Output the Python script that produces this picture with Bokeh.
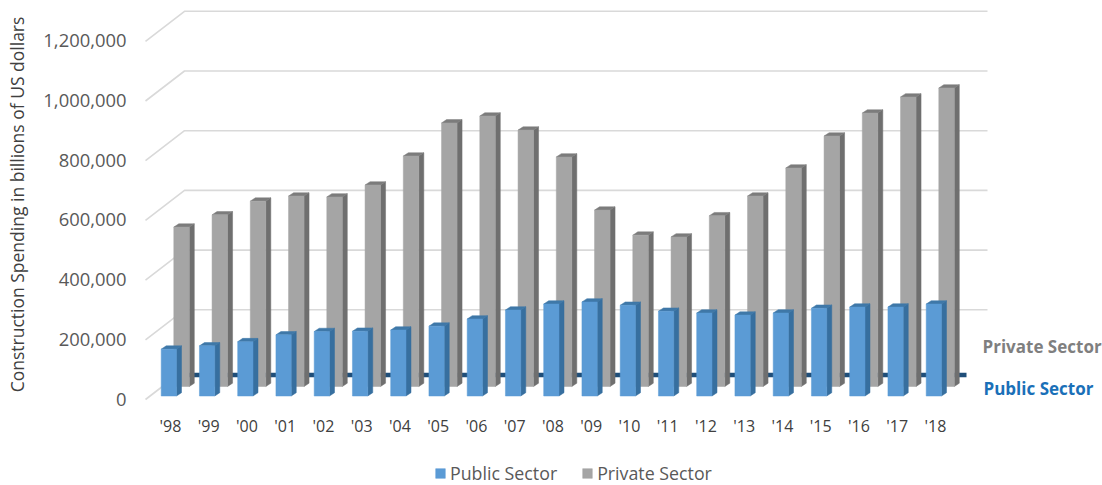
from math import pi

from bokeh.embed import file_html
from bokeh.resources import INLINE
from bokeh.plotting import figure
from bokeh.models import Range1d, FixedTicker, Legend, LegendItem, Label, NumeralTickFormatter

years = ["'98", "'99", "'00", "'01", "'02", "'03", "'04", "'05", "'06", "'07", "'08",
         "'09", "'10", "'11", "'12", "'13", "'14", "'15", "'16", "'17", "'18"]
public_sector = [157000, 168000, 182000, 205000, 216000, 217000, 221000, 234000, 258000, 288000, 308000,
                 315000, 304000, 284000, 278000, 271000, 278000, 294000, 298000, 298000, 308000]
private_sector = [534000, 575000, 621000, 638000, 635000, 675000, 772000, 883000, 906000, 859000, 769000,
                  591000, 507000, 501000, 572000, 638000, 732000, 839000, 916000, 970000, 1000000]
y_ticks = [0, 200000, 400000, 600000, 800000, 1000000, 1200000]

W, H = 1102, 485
AXIS_X, AXIS_Y = 130, 412  # where the value axis and the year axis sit
STEP = 38.25              # pixels per year
X0 = 170                  # pixel of the first year
Y0 = 398.5                # pixel of value zero
PX_PER_UNIT = 0.0002985   # pixels per unit of value


def dx(px):
    return px / STEP


def dy(px):
    return px / PX_PER_UNIT


def xp(px):
    return (px - X0) / STEP


def yp(py):
    return (Y0 - py) / PX_PER_UNIT


p = figure(width=W, height=H, output_backend="svg", toolbar_location=None,
           x_range=Range1d(xp(0), xp(W)), y_range=Range1d(yp(H), yp(0)),
           min_border=0)
p.outline_line_color = None
p.grid.visible = False
p.background_fill_color = "white"

# Y axis
p.yaxis.fixed_location = xp(AXIS_X)
p.yaxis.ticker = FixedTicker(ticks=y_ticks)
p.yaxis.formatter = NumeralTickFormatter(format="0,0")
p.yaxis.axis_line_color = None
p.yaxis.major_tick_line_color = None
p.yaxis.minor_tick_line_color = None
p.yaxis.major_tick_out = 0
p.yaxis.major_tick_in = 0
p.yaxis.major_label_text_font = "Open Sans"
p.yaxis.major_label_text_font_size = "18.4px"
p.yaxis.major_label_text_color = "#595959"
p.yaxis.major_label_standoff = 4

# X axis
p.xaxis.fixed_location = yp(AXIS_Y)
p.xaxis.ticker = FixedTicker(ticks=list(range(len(years))))
p.xaxis.major_label_overrides = {i: y for i, y in enumerate(years)}
p.xaxis.axis_line_color = None
p.xaxis.major_tick_line_color = None
p.xaxis.minor_tick_line_color = None
p.xaxis.major_tick_out = 0
p.xaxis.major_tick_in = 0
p.xaxis.major_label_text_font = "Open Sans"
p.xaxis.major_label_text_font_size = "16px"
p.xaxis.major_label_text_color = "#404040"
p.xaxis.major_label_standoff = 2

# Walls: each level runs up the side wall and along the back wall
wall_xs, wall_ys = [], []
for t in y_ticks:
    if t == 0:
        wall_xs.append([xp(145), xp(184)])
        wall_ys.append([t - dy(0.5), t + dy(29.5)])
    else:
        wall_xs.append([xp(145), xp(184), xp(987)])
        wall_ys.append([t - dy(0.5), t + dy(29.5), t + dy(29.5)])
p.multi_line(wall_xs, wall_ys, line_color="#d9d9d9", line_width=1.6)

# Dark floor strip behind the front row
p.line([xp(181), xp(966)], [yp(374.5), yp(374.5)], line_color="#1f4e79", line_width=4.5)


def bars_3d(values, offset_px, width_px, base_py, front, side, top):
    """Draw a row of extruded bars; returns the front-face renderer."""
    base = yp(base_py)
    w, ex, ey = dx(width_px), dx(5), dy(3.3)
    lefts = [i + dx(offset_px) for i in range(len(values))]
    rights = [l + w for l in lefts]
    tops = [base + v for v in values]
    side_xs = [[r, r + ex, r + ex, r] for r in rights]
    side_ys = [[base, base + ey, t + ey, t] for t in tops]
    top_xs = [[l, l + ex, r + ex, r] for l, r in zip(lefts, rights)]
    top_ys = [[t, t + ey, t + ey, t] for t in tops]
    p.patches(side_xs, side_ys, fill_color=side, line_color=side, line_width=0.5)
    p.patches(top_xs, top_ys, fill_color=top, line_color=top, line_width=0.5)
    return p.quad(left=lefts, right=rights, bottom=[base] * len(values), top=tops,
                  fill_color=front, line_color=front, line_width=0.5)


private_r = bars_3d(private_sector, 3.3, 15.5, 386, "#a5a5a5", "#6f6f6f", "#7c7c7c")
public_r = bars_3d(public_sector, -9.3, 15.3, 395.5, "#5b9bd5", "#376f9f", "#3f78a8")

# Value axis title, centred along the scale
p.add_layout(Label(x=xp(16), y=yp(204), text="Construction Spending in billions of US dollars",
                   angle=pi / 2, text_font="Open Sans", text_font_size="17.5px",
                   text_color="#404040", text_align="center", text_baseline="middle"))

# Row labels on the right
p.add_layout(Label(x=xp(982), y=yp(346), text="Private Sector", text_font="Open Sans",
                   text_font_size="17px", text_font_style="bold", text_color="#7f7f7f",
                   text_baseline="middle"))
p.add_layout(Label(x=xp(983), y=yp(388), text="Public Sector", text_font="Open Sans",
                   text_font_size="17px", text_font_style="bold", text_color="#1a70b8",
                   text_baseline="middle"))

legend = Legend(items=[LegendItem(label="Public Sector", renderers=[public_r]),
                       LegendItem(label="Private Sector", renderers=[private_r])],
                orientation="horizontal", location=(434, 0),
                border_line_color=None, background_fill_alpha=0,
                glyph_width=12, glyph_height=12, label_standoff=4, spacing=24,
                label_text_font="Open Sans", label_text_font_size="17.8px",
                label_text_color="#595959", padding=0, margin=0)
p.add_layout(legend)

open("out.html", "w").write(file_html(p, INLINE))
